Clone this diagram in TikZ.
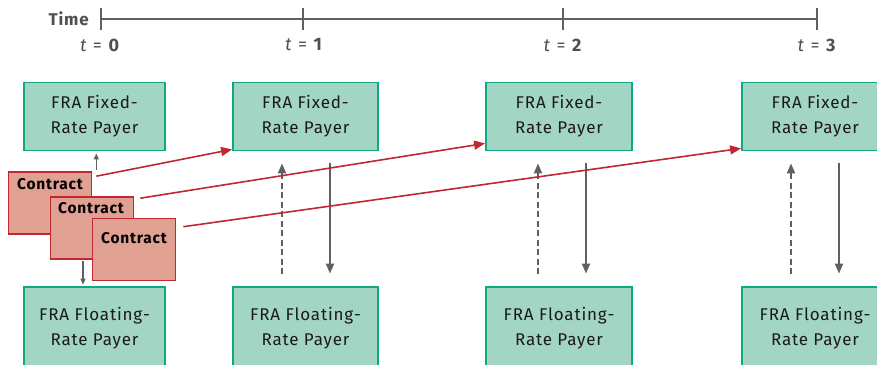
\documentclass[tikz,border=0pt]{standalone}
\usepackage{fontspec}
\setmainfont{Fira Sans}[LetterSpace=5]
\usetikzlibrary{arrows.meta,calc}
\definecolor{boxfill}{HTML}{A3D5C4}
\definecolor{boxline}{HTML}{10A882}
\definecolor{redline}{HTML}{C02733}
\definecolor{redfill}{HTML}{E0A092}
\definecolor{axisgray}{HTML}{5F6062}
\definecolor{labgray}{HTML}{4F5052}
\definecolor{txt}{HTML}{1A1A1A}
\tikzset{
  payerbox/.style={draw=boxline, fill=boxfill, line width=1.8pt, rectangle, inner sep=0pt,
    align=center, text=txt, font=\fontsize{17}{25}\selectfont},
  contractbox/.style={draw=redline, fill=redfill, line width=1.6pt, rectangle, inner sep=0pt,
    minimum width=83pt, minimum height=62pt},
  contractlab/.style={font=\bfseries\fontsize{15.5}{17}\selectfont, text=black, anchor=center, inner sep=0pt},
  redarrow/.style={draw=redline, line width=1.6pt, -{Triangle[length=11pt,width=9pt]}},
  grayarrow/.style={draw=axisgray, line width=1.8pt, -{Triangle[length=10pt,width=8pt]}},
  smallarrow/.style={draw=axisgray, line width=1.4pt, -{Triangle[length=6pt,width=5pt]}},
  dasharrow/.style={grayarrow, dash pattern=on 6pt off 3.5pt},
  axisline/.style={draw=axisgray, line width=1.5pt},
  tlab/.style={text=labgray, font=\fontsize{18}{20}\selectfont, inner sep=0pt}
}
\begin{document}
\begin{tikzpicture}[x=1pt,y=-1pt]
\useasboundingbox (0,0) rectangle (877,364);
\clip (0,0) rectangle (877,364);

% time axis
\coordinate (a0) at (101,19);
\coordinate (a1) at (303,19);
\coordinate (a2) at (563,19);
\coordinate (a3) at (817,19);
\draw[axisline] (a0) -- (a3);
\foreach \p in {a0,a1,a2,a3}{
  \draw[axisline] ($(\p)+(0,-11)$) -- ($(\p)+(0,11)$);
}
\node[tlab, anchor=east, font=\bfseries\fontsize{17}{20}\selectfont] (time) at (89,19) {Time};
\node[tlab] (t0) at (100,45) {\textit{t} = \textbf{0}};
\node[tlab] (t1) at (304,45) {\textit{t} = \textbf{1}};
\node[tlab] (t2) at (563,45) {\textit{t} = \textbf{2}};
\node[tlab] (t3) at (817,45) {\textit{t} = \textbf{3}};

% payer boxes
\node[payerbox, minimum width=141pt, minimum height=68pt] (f0) at (94.5,116.5) {FRA Fixed-\\Rate Payer};
\node[payerbox, minimum width=145pt, minimum height=68pt] (f1) at (305.5,116.5) {FRA Fixed-\\Rate Payer};
\node[payerbox, minimum width=146pt, minimum height=68pt] (f2) at (559,116.5) {FRA Fixed-\\Rate Payer};
\node[payerbox, minimum width=146pt, minimum height=68pt] (f3) at (815,116.5) {FRA Fixed-\\Rate Payer};

\node[payerbox, minimum width=141pt, minimum height=82pt] (l0) at (94.5,328) {FRA Floating-\\Rate Payer};
\node[payerbox, minimum width=145pt, minimum height=82pt] (l1) at (305.5,328) {FRA Floating-\\Rate Payer};
\node[payerbox, minimum width=146pt, minimum height=82pt] (l2) at (559,328) {FRA Floating-\\Rate Payer};
\node[payerbox, minimum width=146pt, minimum height=82pt] (l3) at (815,328) {FRA Floating-\\Rate Payer};

% contracts
\node[contractbox] (c1) at (50,203) {};
\node[contractlab] (c1l) at ($(c1.north)+(0,13)$) {Contract};
\node[contractbox] (c2) at (92,228) {};
\node[contractlab] (c2l) at ($(c2.north)+(-1,12)$) {Contract};
\node[contractbox] (c3) at (134,249.5) {};
\node[contractlab] (c3l) at ($(c3.north)+(0,20)$) {Contract};

% small arrows at t=0
\coordinate (s1a) at ($(c1.north east)+(4,-1)$);
\coordinate (s1b) at (s1a |- f0.south);
\draw[smallarrow, shorten >=2pt] (s1a) -- (s1b);
\coordinate (s2a) at ($(c2.south)+(-9,1)$);
\coordinate (s2b) at (s2a |- l0.north);
\draw[smallarrow, shorten >=1.5pt] (s2a) -- (s2b);

% exchange arrows
\draw[dasharrow, shorten <=12pt, shorten >=12pt] (282,0 |- l1.north) -- (282,0 |- f1.south);
\draw[grayarrow, shorten <=12pt, shorten >=12.5pt] (330,0 |- f1.south) -- (330,0 |- l1.north);
\draw[dasharrow, shorten <=12pt, shorten >=12pt] (538,0 |- l2.north) -- (538,0 |- f2.south);
\draw[grayarrow, shorten <=12pt, shorten >=12.5pt] (586,0 |- f2.south) -- (586,0 |- l2.north);
\draw[dasharrow, shorten <=12pt, shorten >=12pt] (791,0 |- l3.north) -- (791,0 |- f3.south);
\draw[grayarrow, shorten <=12pt, shorten >=12.5pt] (839,0 |- f3.south) -- (839,0 |- l3.north);

% contract arrows
\draw[redarrow] ($(c1.north east)+(4,5)$) -- ($(f1.south west)+(0,-2)$);
\draw[redarrow] ($(c2.north east)+(6,2)$) -- ($(f2.south west)+(0,-8)$);
\draw[redarrow] ($(c3.north east)+(7,9)$) -- ($(f3.south west)+(0,-3)$);
\end{tikzpicture}
\end{document}
